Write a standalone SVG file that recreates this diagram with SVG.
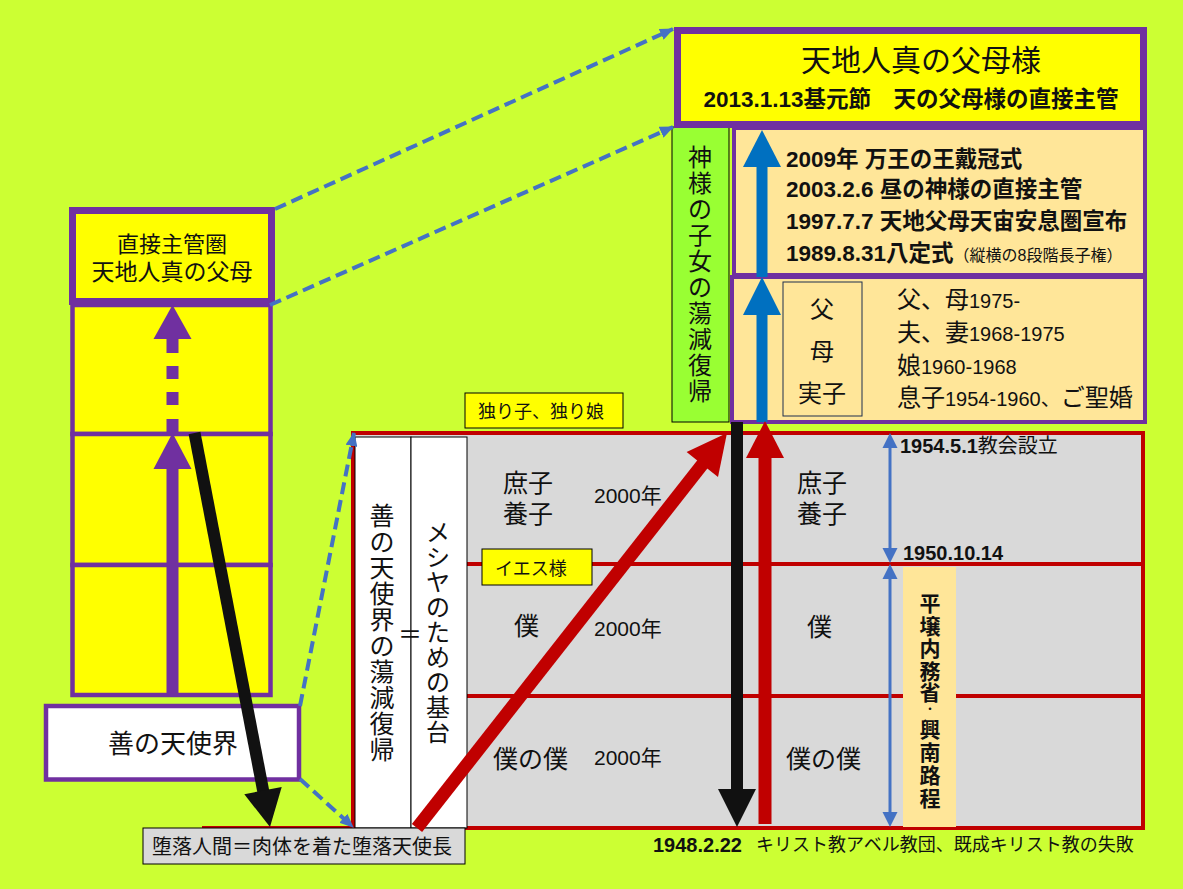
<svg xmlns="http://www.w3.org/2000/svg" width="1183" height="889" viewBox="0 0 1183 889">
<defs>
<marker id="dashHead" markerUnits="userSpaceOnUse" viewBox="0 0 14 12" refX="13" refY="6" markerWidth="14" markerHeight="12" orient="auto">
<path d="M0,0 L14,6 L0,12 z" fill="#4472C4"/>
</marker>
</defs>
<style>
text{font-family:"Liberation Sans","Noto Sans CJK JP",sans-serif;fill:#111}
.b{font-weight:bold}
.purple{stroke:#7030A0}
.dash{fill:none;stroke:#4472C4;stroke-width:4;stroke-dasharray:12 6;marker-end:url(#dashHead)}
.thin{stroke:#000;stroke-width:1}
.red{stroke:#C00000;stroke-width:4}
.blue2{stroke:#4472C4;stroke-width:3}
</style>
<rect x="0" y="0" width="1183" height="889" fill="#CCFF33"/>

<!-- left column -->
<g id="node-left-stack">
<rect x="72.5" y="305" width="198" height="129" fill="#FFFF00" class="purple" stroke-width="4.5"/>
<rect x="72.5" y="434" width="198" height="131" fill="#FFFF00" class="purple" stroke-width="4.5"/>
<rect x="72.5" y="565" width="198" height="130" fill="#FFFF00" class="purple" stroke-width="4.5"/>
</g>
<g id="node-direct">
<rect x="72.5" y="210.5" width="199" height="91" fill="#FFFF00" class="purple" stroke-width="7"/>
<text x="172" y="252" font-size="22" text-anchor="middle">直接主管圏</text>
<text x="172" y="280" font-size="23" text-anchor="middle">天地人真の父母</text>
</g>
<g id="node-good-angels">
<rect x="46" y="706" width="253" height="73.5" fill="#FFFFFF" class="purple" stroke-width="4.5"/>
<text x="173" y="753" font-size="26" text-anchor="middle">善の天使界</text>
</g>

<!-- grid -->
<g id="node-grid">
<rect x="353" y="433" width="790" height="395" fill="#D9D9D9" class="red"/>
<line x1="353" y1="564" x2="1143" y2="564" class="red"/>
<line x1="353" y1="696" x2="1145" y2="696" class="red"/>
<line x1="202" y1="828" x2="1145" y2="828" class="red"/>
<text x="503" y="492" font-size="25">庶子</text>
<text x="503" y="523" font-size="25">養子</text>
<text x="594" y="503" font-size="21">2000年</text>
<text x="514" y="635" font-size="25">僕</text>
<text x="594" y="636" font-size="21">2000年</text>
<text x="493" y="768" font-size="25">僕の僕</text>
<text x="594" y="765" font-size="21">2000年</text>
<text x="797" y="492" font-size="25">庶子</text>
<text x="797" y="523" font-size="25">養子</text>
<text x="807" y="636" font-size="25">僕</text>
<text x="786" y="768" font-size="25">僕の僕</text>
</g>
<g id="node-col-angels">
<rect x="355" y="437" width="56" height="391" fill="#FFFFFF" class="thin"/>
<text font-size="25" text-anchor="middle"><tspan x="382" y="525">善</tspan><tspan x="382" y="551">の</tspan><tspan x="382" y="577">天</tspan><tspan x="382" y="603">使</tspan><tspan x="382" y="629">界</tspan><tspan x="382" y="655">の</tspan><tspan x="382" y="681">蕩</tspan><tspan x="382" y="707">減</tspan><tspan x="382" y="733">復</tspan><tspan x="382" y="759">帰</tspan></text>
</g>
<g id="node-col-messiah">
<rect x="411" y="437" width="56" height="391" fill="#FFFFFF" class="thin"/>
<text font-size="24" text-anchor="middle"><tspan x="438" y="541">メ</tspan><tspan x="438" y="566">シ</tspan><tspan x="438" y="591">ヤ</tspan><tspan x="438" y="616">の</tspan><tspan x="438" y="641">た</tspan><tspan x="438" y="666">め</tspan><tspan x="438" y="691">の</tspan><tspan x="438" y="716">基</tspan><tspan x="438" y="741">台</tspan></text>
</g>
<g id="node-equals">
<text x="410" y="643" font-size="24" text-anchor="middle">＝</text>
</g>
<g id="node-pyongyang">
<rect x="903" y="567" width="53" height="260" fill="#FFE699"/>
<text class="b" font-size="21" text-anchor="middle"><tspan x="930" y="611">平</tspan><tspan x="930" y="634">壌</tspan><tspan x="930" y="656">内</tspan><tspan x="930" y="679">務</tspan><tspan x="930" y="700">省</tspan><tspan x="930" y="713" font-size="10">・</tspan><tspan x="930" y="737">興</tspan><tspan x="930" y="760">南</tspan><tspan x="930" y="783">路</tspan><tspan x="930" y="806">程</tspan></text>
</g>
<g id="node-dates">
<text x="900" y="453" font-size="20"><tspan class="b">1954.5.1</tspan>教会設立</text>
<text x="903" y="560" font-size="20" class="b">1950.10.14</text>
</g>
<g id="node-bottom-caption">
<text x="653" y="852" font-size="20" class="b">1948.2.22</text>
<text x="756" y="851" font-size="18">キリスト教アベル教団、既成キリスト教の失敗</text>
</g>
<g id="node-fallen">
<rect x="143" y="828" width="322" height="36" fill="#D9D9D9" class="thin"/>
<text x="302" y="854" font-size="20" text-anchor="middle">堕落人間＝肉体を着た堕落天使長</text>
</g>
<g id="node-only-child">
<rect x="465" y="393" width="158" height="35" fill="#FFFF00" class="thin"/>
<text x="478" y="418" font-size="18">独り子、独り娘</text>
</g>
<g id="node-jesus">
<rect x="482" y="549" width="110" height="36" fill="#FFFF00" class="thin"/>
<text x="495" y="575" font-size="18">イエス様</text>
</g>

<!-- right column -->
<g id="node-green">
<rect x="672" y="127" width="57" height="295" fill="#99FF33" class="thin"/>
<text font-size="24" text-anchor="middle"><tspan x="700" y="166">神</tspan><tspan x="700" y="192">様</tspan><tspan x="700" y="218">の</tspan><tspan x="700" y="244">子</tspan><tspan x="700" y="270">女</tspan><tspan x="700" y="296">の</tspan><tspan x="700" y="322">蕩</tspan><tspan x="700" y="348">減</tspan><tspan x="700" y="374">復</tspan><tspan x="700" y="400">帰</tspan></text>
</g>
<g id="node-history-upper">
<rect x="734" y="128" width="411" height="147" fill="#FFE699" class="purple" stroke-width="4"/>
<text x="786" y="167" font-size="22.5" class="b">2009年 万王の王戴冠式</text>
<text x="786" y="197" font-size="22.5" class="b">2003.2.6 昼の神様の直接主管</text>
<text x="786" y="229" font-size="22.5" class="b">1997.7.7 天地父母天宙安息圏宣布</text>
<text x="786" y="261" font-size="22.5" class="b">1989.8.31八定式<tspan font-size="16" font-weight="normal">（縦横の8段階長子権）</tspan></text>
</g>
<g id="node-history-lower">
<rect x="732" y="277" width="413" height="145" fill="#FFE699" class="purple" stroke-width="4"/>
<text x="897" y="308" font-size="24">父、母<tspan font-size="20">1975-</tspan></text>
<text x="897" y="341" font-size="24">夫、妻<tspan font-size="20">1968-1975</tspan></text>
<text x="897" y="374" font-size="24">娘<tspan font-size="20">1960-1968</tspan></text>
<text x="897" y="406" font-size="24">息子<tspan font-size="20">1954-1960、</tspan>ご聖婚</text>
</g>
<g id="node-parents-child">
<rect x="783" y="282" width="79" height="134" fill="#FFE699" stroke="#1F2F4F" stroke-width="1"/>
<text x="822" y="318" font-size="24" text-anchor="middle">父</text>
<text x="822" y="360" font-size="24" text-anchor="middle">母</text>
<text x="822" y="402" font-size="24" text-anchor="middle">実子</text>
</g>
<g id="node-top">
<rect x="677.5" y="30.5" width="466" height="94" fill="#FFFF00" class="purple" stroke-width="7"/>
<text x="921" y="71" font-size="30" text-anchor="middle">天地人真の父母様</text>
<text x="911" y="107" font-size="22.5" class="b" text-anchor="middle">2013.1.13基元節　天の父母様の直接主管</text>
</g>

<!-- connectors -->
<g id="connectors">
<line x1="275" y1="209" x2="673" y2="29" class="dash"/>
<line x1="270" y1="305" x2="673" y2="127" class="dash"/>
<line x1="300" y1="706" x2="354" y2="433" class="dash"/>
<line x1="300" y1="779" x2="353" y2="827" class="dash"/>
<!-- purple arrows -->
<rect x="166.5" y="468" width="12" height="227" fill="#7030A0"/>
<polygon points="172.5,433 153.5,469 191.5,469" fill="#7030A0"/>
<polygon points="172.5,305 153.5,339 191.5,339" fill="#7030A0"/>
<rect x="166.5" y="338" width="12" height="15" fill="#7030A0"/>
<rect x="166.5" y="366" width="12" height="13" fill="#7030A0"/>
<rect x="166.5" y="392" width="12" height="13" fill="#7030A0"/>
<rect x="166.5" y="419" width="12" height="14" fill="#7030A0"/>
<!-- black diagonal -->
<line x1="194.5" y1="433" x2="264" y2="795" stroke="#111" stroke-width="12"/>
<polygon points="270,827 281.7,787 244.3,794.2" fill="#111"/>
<!-- blue up arrows -->
<rect x="756.5" y="165" width="11" height="112" fill="#0070C0"/>
<polygon points="762,130 743,167 781,167" fill="#0070C0"/>
<rect x="756.5" y="313" width="11" height="109" fill="#0070C0"/>
<polygon points="762,277 743,315 781,315" fill="#0070C0"/>
<!-- red diagonal -->
<line x1="417" y1="828" x2="705" y2="461" stroke="#C00000" stroke-width="13"/>
<polygon points="727,433 718,477 686.6,452.1" fill="#C00000"/>
<!-- black vertical -->
<rect x="731" y="422" width="12" height="370" fill="#111"/>
<polygon points="737,827 718,789 756,789" fill="#111"/>
<!-- red vertical -->
<rect x="758.5" y="456" width="13" height="368" fill="#C00000"/>
<polygon points="765,421 746,458 784,458" fill="#C00000"/>
<!-- blue double arrows -->
<line x1="890" y1="446" x2="890" y2="550" class="blue2"/>
<polygon points="890,433 882.5,448 897.5,448" fill="#4472C4"/>
<polygon points="890,563 882.5,548 897.5,548" fill="#4472C4"/>
<line x1="890" y1="577" x2="890" y2="814" class="blue2"/>
<polygon points="890,564 882.5,579 897.5,579" fill="#4472C4"/>
<polygon points="890,827 882.5,812 897.5,812" fill="#4472C4"/>
</g>
</svg>
